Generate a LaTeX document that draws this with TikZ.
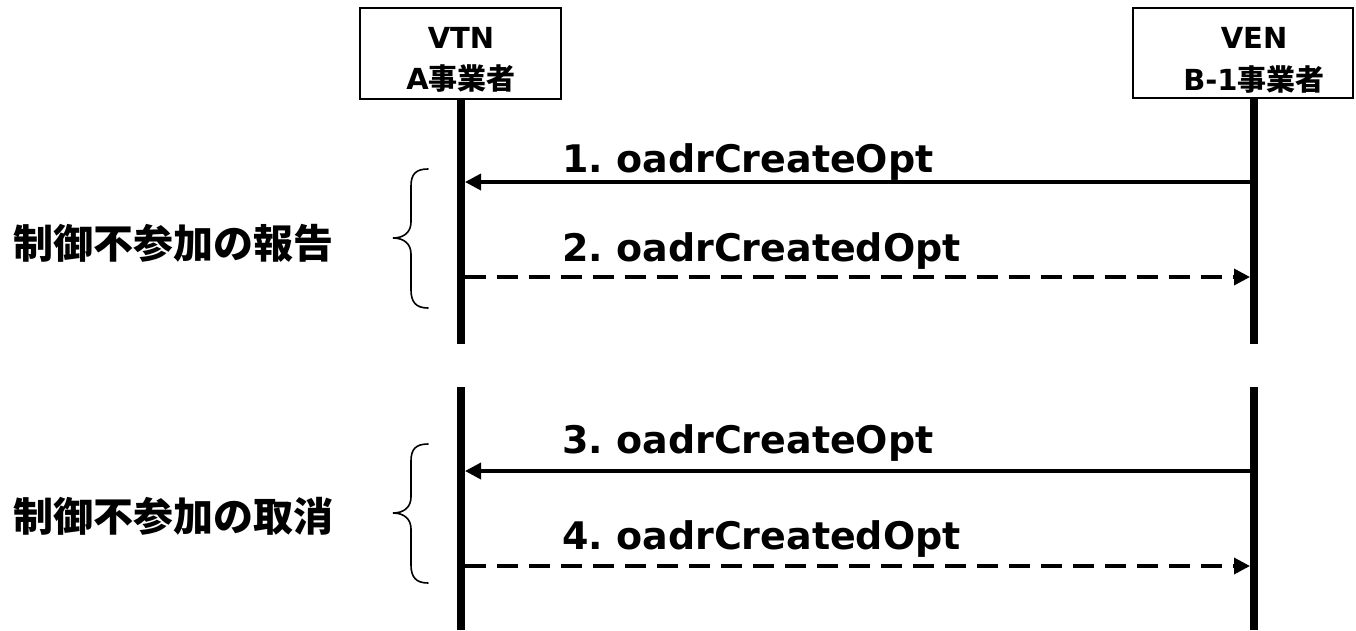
\documentclass[tikz,border=0pt]{standalone}
\usepackage{fontspec}
\setmainfont{DejaVu Sans}
\newfontfamily\cjk{Noto Sans CJK JP}
\usetikzlibrary{arrows.meta}
\frenchspacing
\begin{document}
\begin{tikzpicture}[x=1pt,y=-1pt,
  actorbox/.style={draw, line width=2pt, fill=white, inner sep=0pt},
  actortext/.style={anchor=base, font=\fontsize{29}{33}\selectfont\bfseries, inner sep=0pt},
  lifeline/.style={line width=8.5pt},
  msg/.style={line width=3.5pt, -{Triangle[length=16pt,width=16pt]}},
  reply/.style={msg, dash pattern=on 21pt off 11pt},
  msgtext/.style={anchor=base west, font=\fontsize{38}{44}\selectfont\bfseries, inner sep=0pt},
  phasetext/.style={anchor=west, font=\fontsize{40}{46}\selectfont\cjk\bfseries, inner sep=0pt},
  bracestyle/.style={line width=1.6pt, line cap=round},
  curlybrace/.pic={
    \draw[bracestyle] (35,-69) .. controls (23,-69) and (18,-64) .. (18,-52)
      -- (18,-16) .. controls (18,-6) and (11,0) .. (0,0)
      .. controls (11,0) and (18,6) .. (18,16)
      -- (18,52) .. controls (18,64) and (23,70) .. (35,70);
  }]
\useasboundingbox (0,0) rectangle (1356,630);

% actor boxes
\node[actorbox, minimum width=201pt, minimum height=91pt] (vtn) at (460.5,53.5) {};
\node[actorbox, minimum width=220pt, minimum height=90pt] (ven) at (1243,53) {};
\node[actortext] (vtn1) at (461,48) {VTN};
\node[actortext] (vtn2) at (461,89) {A{\cjk 事業者}};
\node[actortext] (ven1) at (1254,48) {VEN};
\node[actortext] (ven2) at (1254,90) {B-1{\cjk 事業者}};

% lifeline coordinates
\coordinate (vtnT1) at (461,99);  \coordinate (vtnB1) at (461,344);
\coordinate (vtnT2) at (461,387); \coordinate (vtnB2) at (461,630);
\coordinate (venT1) at (1254,98); \coordinate (venB1) at (1254,344);
\coordinate (venT2) at (1254,387); \coordinate (venB2) at (1254,630);
\draw[lifeline] (vtnT1) -- (vtnB1);
\draw[lifeline] (vtnT2) -- (vtnB2);
\draw[lifeline] (venT1) -- (venB1);
\draw[lifeline] (venT2) -- (venB2);

% message end points
\coordinate (a1) at (465,182);  \coordinate (b1) at (1250,182);
\coordinate (a2) at (465,277);  \coordinate (b2) at (1250,277);
\coordinate (a3) at (465,471);  \coordinate (b3) at (1250,471);
\coordinate (a4) at (465,566);  \coordinate (b4) at (1250,566);

\draw[msg] (b1) -- (a1);
\draw[reply] (a2) -- (b2);
\draw[msg] (b3) -- (a3);
\draw[reply] (a4) -- (b4);

\node[msgtext] (m1) at (562,172) {1. oadrCreateOpt};
\node[msgtext] (m2) at (562,261) {2. oadrCreatedOpt};
\node[msgtext] (m3) at (562,453) {3. oadrCreateOpt};
\node[msgtext] (m4) at (562,549) {4. oadrCreatedOpt};

% phase braces and labels
\pic at (393,238) {curlybrace};
\pic at (393,513) {curlybrace};
\node[phasetext] (p1) at (13,243) {制御不参加の報告};
\node[phasetext] (p2) at (13,516) {制御不参加の取消};
\end{tikzpicture}
\end{document}
